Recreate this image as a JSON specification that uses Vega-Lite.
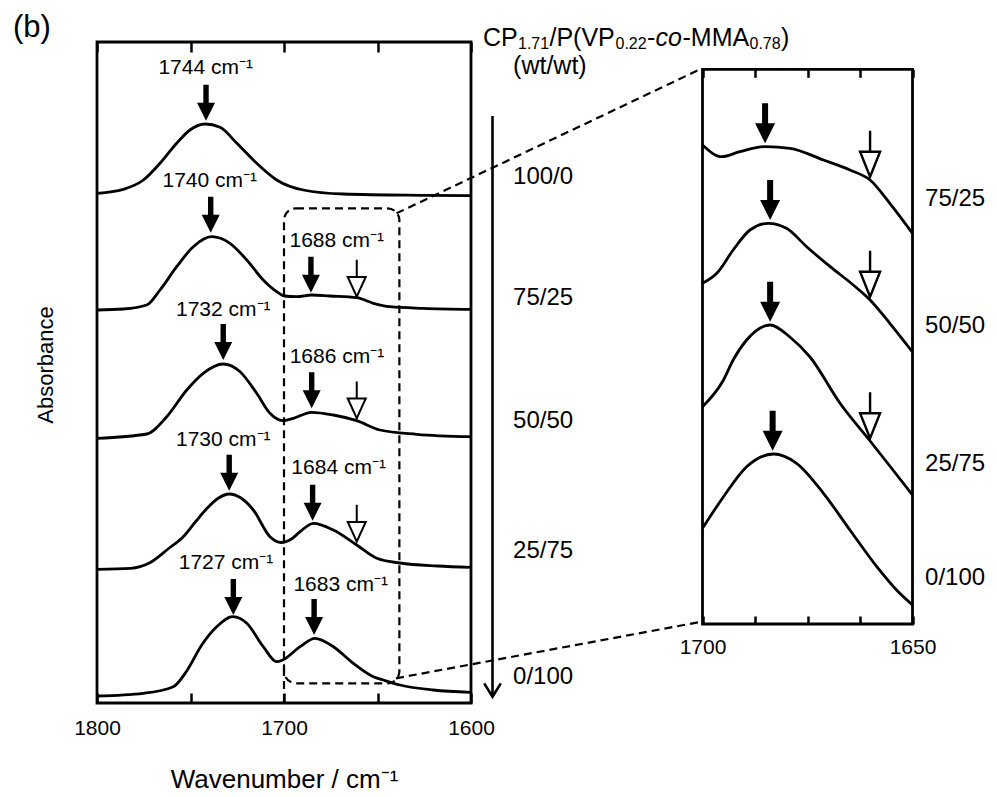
{
  "$schema": "https://vega.github.io/schema/vega-lite/v6.json",
  "width": 374,
  "height": 661,
  "autosize": {"type": "none"},
  "padding": {"left": 97, "top": 42, "right": 526, "bottom": 94},
  "background": "white",
  "config": {
    "font": "Liberation Sans",
    "view": {"stroke": "black", "strokeWidth": 2.8},
    "axis": {"grid": false, "labelFont": "Liberation Sans", "titleFont": "Liberation Sans", "labelColor": "black", "titleColor": "black", "tickColor": "black", "domainColor": "black", "titleFontWeight": "normal"},
    "text": {"font": "Liberation Sans", "color": "black"}
  },
  "datasets": {
    "main": [
      {"ratio": "100/0", "wn": 1800, "A": 5.097}, {"ratio": "100/0", "wn": 1785.9, "A": 5.137}, {"ratio": "100/0", "wn": 1775.2, "A": 5.23}, {"ratio": "100/0", "wn": 1766.3, "A": 5.397}, {"ratio": "100/0", "wn": 1757.4, "A": 5.597}, {"ratio": "100/0", "wn": 1750.3, "A": 5.73}, {"ratio": "100/0", "wn": 1742.2, "A": 5.79}, {"ratio": "100/0", "wn": 1734.2, "A": 5.757}, {"ratio": "100/0", "wn": 1725.2, "A": 5.597}, {"ratio": "100/0", "wn": 1714.6, "A": 5.397}, {"ratio": "100/0", "wn": 1703.9, "A": 5.23}, {"ratio": "100/0", "wn": 1689.7, "A": 5.13}, {"ratio": "100/0", "wn": 1668.3, "A": 5.09}, {"ratio": "100/0", "wn": 1625.5, "A": 5.077}, {"ratio": "100/0", "wn": 1600, "A": 5.073},
      {"ratio": "75/25", "wn": 1800, "A": 3.93}, {"ratio": "75/25", "wn": 1785.9, "A": 3.94}, {"ratio": "75/25", "wn": 1773.4, "A": 3.98}, {"ratio": "75/25", "wn": 1766.3, "A": 4.13}, {"ratio": "75/25", "wn": 1757.4, "A": 4.363}, {"ratio": "75/25", "wn": 1748.5, "A": 4.563}, {"ratio": "75/25", "wn": 1738.7, "A": 4.663}, {"ratio": "75/25", "wn": 1728.9, "A": 4.597}, {"ratio": "75/25", "wn": 1719.9, "A": 4.43}, {"ratio": "75/25", "wn": 1711.1, "A": 4.23}, {"ratio": "75/25", "wn": 1703.9, "A": 4.113}, {"ratio": "75/25", "wn": 1699.8, "A": 4.07}, {"ratio": "75/25", "wn": 1693.2, "A": 4.063}, {"ratio": "75/25", "wn": 1685.2, "A": 4.08}, {"ratio": "75/25", "wn": 1675.4, "A": 4.07}, {"ratio": "75/25", "wn": 1661.1, "A": 4.053}, {"ratio": "75/25", "wn": 1652.2, "A": 3.997}, {"ratio": "75/25", "wn": 1643.3, "A": 3.963}, {"ratio": "75/25", "wn": 1625.5, "A": 3.947}, {"ratio": "75/25", "wn": 1600, "A": 3.937},
      {"ratio": "50/50", "wn": 1800, "A": 2.647}, {"ratio": "50/50", "wn": 1773.4, "A": 2.69}, {"ratio": "50/50", "wn": 1762.7, "A": 2.863}, {"ratio": "50/50", "wn": 1752.0, "A": 3.13}, {"ratio": "50/50", "wn": 1743.2, "A": 3.297}, {"ratio": "50/50", "wn": 1732.5, "A": 3.39}, {"ratio": "50/50", "wn": 1723.5, "A": 3.313}, {"ratio": "50/50", "wn": 1714.6, "A": 3.097}, {"ratio": "50/50", "wn": 1707.5, "A": 2.897}, {"ratio": "50/50", "wn": 1700.7, "A": 2.823}, {"ratio": "50/50", "wn": 1695.0, "A": 2.847}, {"ratio": "50/50", "wn": 1685.2, "A": 2.907}, {"ratio": "50/50", "wn": 1673.6, "A": 2.88}, {"ratio": "50/50", "wn": 1661.1, "A": 2.823}, {"ratio": "50/50", "wn": 1648.7, "A": 2.73}, {"ratio": "50/50", "wn": 1629.0, "A": 2.687}, {"ratio": "50/50", "wn": 1600, "A": 2.663},
      {"ratio": "25/75", "wn": 1800, "A": 1.337}, {"ratio": "25/75", "wn": 1782, "A": 1.347}, {"ratio": "25/75", "wn": 1772, "A": 1.4}, {"ratio": "25/75", "wn": 1762, "A": 1.54}, {"ratio": "25/75", "wn": 1754, "A": 1.66}, {"ratio": "25/75", "wn": 1747, "A": 1.82}, {"ratio": "25/75", "wn": 1741, "A": 1.95}, {"ratio": "25/75", "wn": 1735, "A": 2.05}, {"ratio": "25/75", "wn": 1729.3, "A": 2.09}, {"ratio": "25/75", "wn": 1723, "A": 2.05}, {"ratio": "25/75", "wn": 1716.4, "A": 1.93}, {"ratio": "25/75", "wn": 1707.5, "A": 1.663}, {"ratio": "25/75", "wn": 1701.5, "A": 1.605}, {"ratio": "25/75", "wn": 1696, "A": 1.64}, {"ratio": "25/75", "wn": 1691.4, "A": 1.713}, {"ratio": "25/75", "wn": 1684.3, "A": 1.797}, {"ratio": "25/75", "wn": 1673.6, "A": 1.73}, {"ratio": "25/75", "wn": 1661.1, "A": 1.58}, {"ratio": "25/75", "wn": 1650.4, "A": 1.447}, {"ratio": "25/75", "wn": 1638, "A": 1.4}, {"ratio": "25/75", "wn": 1618, "A": 1.37}, {"ratio": "25/75", "wn": 1600, "A": 1.357},
      {"ratio": "0/100", "wn": 1800, "A": 0.07}, {"ratio": "0/100", "wn": 1775.2, "A": 0.097}, {"ratio": "0/100", "wn": 1759.2, "A": 0.163}, {"ratio": "0/100", "wn": 1752, "A": 0.32}, {"ratio": "0/100", "wn": 1744, "A": 0.58}, {"ratio": "0/100", "wn": 1736.0, "A": 0.763}, {"ratio": "0/100", "wn": 1727.4, "A": 0.863}, {"ratio": "0/100", "wn": 1719.9, "A": 0.797}, {"ratio": "0/100", "wn": 1711.1, "A": 0.563}, {"ratio": "0/100", "wn": 1703.9, "A": 0.413}, {"ratio": "0/100", "wn": 1700.7, "A": 0.43}, {"ratio": "0/100", "wn": 1691.4, "A": 0.563}, {"ratio": "0/100", "wn": 1683.4, "A": 0.647}, {"ratio": "0/100", "wn": 1673.6, "A": 0.563}, {"ratio": "0/100", "wn": 1662.9, "A": 0.397}, {"ratio": "0/100", "wn": 1652.2, "A": 0.263}, {"ratio": "0/100", "wn": 1646.9, "A": 0.23}, {"ratio": "0/100", "wn": 1638.0, "A": 0.18}, {"ratio": "0/100", "wn": 1620.2, "A": 0.13}, {"ratio": "0/100", "wn": 1600, "A": 0.107}
    ],
    "zoom": [
      {"ratio": "75/25", "wn": 1700, "A": 4.79}, {"ratio": "75/25", "wn": 1695.4, "A": 4.673}, {"ratio": "75/25", "wn": 1691.1, "A": 4.723}, {"ratio": "75/25", "wn": 1685.1, "A": 4.773}, {"ratio": "75/25", "wn": 1679.2, "A": 4.757}, {"ratio": "75/25", "wn": 1671.2, "A": 4.64}, {"ratio": "75/25", "wn": 1664.9, "A": 4.54}, {"ratio": "75/25", "wn": 1660.1, "A": 4.44}, {"ratio": "75/25", "wn": 1655.4, "A": 4.207}, {"ratio": "75/25", "wn": 1650, "A": 3.907},
      {"ratio": "50/50", "wn": 1700, "A": 3.407}, {"ratio": "50/50", "wn": 1696.6, "A": 3.507}, {"ratio": "50/50", "wn": 1692.7, "A": 3.74}, {"ratio": "50/50", "wn": 1688.7, "A": 3.94}, {"ratio": "50/50", "wn": 1684.3, "A": 4.007}, {"ratio": "50/50", "wn": 1680, "A": 3.957}, {"ratio": "50/50", "wn": 1675.2, "A": 3.773}, {"ratio": "50/50", "wn": 1669.6, "A": 3.573}, {"ratio": "50/50", "wn": 1664.1, "A": 3.39}, {"ratio": "50/50", "wn": 1660.1, "A": 3.24}, {"ratio": "50/50", "wn": 1655.4, "A": 3.007}, {"ratio": "50/50", "wn": 1650, "A": 2.72},
      {"ratio": "25/75", "wn": 1700, "A": 2.173}, {"ratio": "25/75", "wn": 1695, "A": 2.44}, {"ratio": "25/75", "wn": 1692.7, "A": 2.64}, {"ratio": "25/75", "wn": 1689.5, "A": 2.84}, {"ratio": "25/75", "wn": 1683.9, "A": 2.99}, {"ratio": "25/75", "wn": 1679.2, "A": 2.87}, {"ratio": "25/75", "wn": 1674.4, "A": 2.67}, {"ratio": "25/75", "wn": 1667.3, "A": 2.21}, {"ratio": "25/75", "wn": 1660.1, "A": 1.83}, {"ratio": "25/75", "wn": 1655.4, "A": 1.58}, {"ratio": "25/75", "wn": 1650, "A": 1.29},
      {"ratio": "0/100", "wn": 1700, "A": 0.957}, {"ratio": "0/100", "wn": 1695, "A": 1.273}, {"ratio": "0/100", "wn": 1689.5, "A": 1.573}, {"ratio": "0/100", "wn": 1683.1, "A": 1.7}, {"ratio": "0/100", "wn": 1677.6, "A": 1.607}, {"ratio": "0/100", "wn": 1671.2, "A": 1.307}, {"ratio": "0/100", "wn": 1664.9, "A": 0.94}, {"ratio": "0/100", "wn": 1658.5, "A": 0.573}, {"ratio": "0/100", "wn": 1653.8, "A": 0.34}, {"ratio": "0/100", "wn": 1650, "A": 0.19}
    ],
    "peaks": [
      {"label": "1744 cm\u207b\u00b9", "wn": 1741.9, "A": 6.347},
      {"label": "1740 cm\u207b\u00b9", "wn": 1739.7, "A": 5.223},
      {"label": "1688 cm\u207b\u00b9", "wn": 1671.8, "A": 4.623},
      {"label": "1732 cm\u207b\u00b9", "wn": 1732.5, "A": 3.93},
      {"label": "1686 cm\u207b\u00b9", "wn": 1671.7, "A": 3.463},
      {"label": "1730 cm\u207b\u00b9", "wn": 1732.5, "A": 2.63},
      {"label": "1684 cm\u207b\u00b9", "wn": 1670.8, "A": 2.347},
      {"label": "1727 cm\u207b\u00b9", "wn": 1731.0, "A": 1.397},
      {"label": "1683 cm\u207b\u00b9", "wn": 1669.7, "A": 1.18}
    ],
    "mainFilled": [
      {"wn": 1741.7, "A": 5.823}, {"wn": 1739.2, "A": 4.703}, {"wn": 1685.6, "A": 4.103},
      {"wn": 1732.5, "A": 3.43}, {"wn": 1685.2, "A": 2.947},
      {"wn": 1729.3, "A": 2.123}, {"wn": 1684.7, "A": 1.823},
      {"wn": 1727.1, "A": 0.88}, {"wn": 1683.9, "A": 0.68}
    ],
    "mainOpen": [
      {"wn": 1661.1, "A": 4.063}, {"wn": 1661.1, "A": 2.847}, {"wn": 1661.1, "A": 1.613}
    ],
    "zoomFilled": [
      {"wn": 1685.1, "A": 4.807}, {"wn": 1683.9, "A": 4.04}, {"wn": 1683.9, "A": 3.023}, {"wn": 1683.3, "A": 1.733}
    ],
    "zoomOpen": [
      {"wn": 1660.1, "A": 4.473}, {"wn": 1660.1, "A": 3.273}, {"wn": 1660.1, "A": 1.857}
    ],
    "ratiosMain": [
      {"ratio": "100/0", "wn": 1577.5, "A": 5.26},
      {"ratio": "75/25", "wn": 1577.5, "A": 4.05},
      {"ratio": "50/50", "wn": 1577.5, "A": 2.82},
      {"ratio": "25/75", "wn": 1577.5, "A": 1.52},
      {"ratio": "0/100", "wn": 1577.5, "A": 0.26}
    ],
    "ratiosZoom": [
      {"ratio": "75/25", "wn": 1647.0, "A": 4.25},
      {"ratio": "50/50", "wn": 1647.0, "A": 2.98},
      {"ratio": "25/75", "wn": 1647.0, "A": 1.6},
      {"ratio": "0/100", "wn": 1647.0, "A": 0.46}
    ],
    "box": [{"wn": 1700, "wn2": 1638.3, "A": 4.947, "A2": 0.197}],
    "boxLeg": [{"wn": 1700, "A": 0.35, "A2": 0}],
    "connectors": [
      {"seg": "top", "wn": 1639.8, "A": 4.897}, {"seg": "top", "wn": 1477.5, "A": 6.337},
      {"seg": "bottom", "wn": 1640.1, "A": 0.247}, {"seg": "bottom", "wn": 1477.5, "A": 0.81}
    ],
    "bigArrow": [{"wn": 1588.5, "A": 5.87, "A2": 0.063}],
    "panelTag": [{"tag": "(b)", "wn": 1834.8, "A": 6.75}],
    "axisTitleY": [{"title": "Absorbance", "wn": 1827.4, "A": 3.38}],
    "titleParts": [
      {"t": "CP", "kind": "main", "wn": 1593.58, "A": 6.573},
      {"t": "1.71", "kind": "sub", "wn": 1574.87, "A": 6.54},
      {"t": "/P(VP", "kind": "main", "wn": 1558.02, "A": 6.573},
      {"t": "0.22", "kind": "sub", "wn": 1522.73, "A": 6.54},
      {"t": "-", "kind": "main", "wn": 1505.88, "A": 6.573},
      {"t": "co", "kind": "ital", "wn": 1501.34, "A": 6.573},
      {"t": "-MMA", "kind": "main", "wn": 1486.9, "A": 6.573},
      {"t": "0.78", "kind": "sub", "wn": 1451.07, "A": 6.54},
      {"t": ")", "kind": "main", "wn": 1434.22, "A": 6.573},
      {"t": "(wt/wt)", "kind": "main", "wn": 1577.5, "A": 6.29}
    ],
    "zframe": [{"wn": 1700, "wn2": 1650, "A": 0, "A2": 5.547}]
  },
  "resolve": {"scale": {"x": "independent", "y": "independent"}, "axis": {"x": "independent", "y": "independent"}},
  "layer": [
    {
      "resolve": {"axis": {"x": "independent"}},
      "layer": [
        {
          "data": {"name": "main"},
          "mark": {"type": "line", "color": "black", "strokeWidth": 2.8, "interpolate": "monotone", "clip": false},
          "encoding": {
            "x": {"field": "wn", "type": "quantitative", "scale": {"domain": [1800, 1600], "nice": false, "zero": false},
              "axis": {"orient": "bottom", "values": [1800, 1750, 1700, 1650, 1600], "format": "d", "labelExpr": "datum.value == 1750 || datum.value == 1650 ? '' : datum.label", "labelFlush": false, "labelOverlap": false, "domain": false, "ticks": true, "tickSize": -10, "tickWidth": 2.5, "labelFontSize": 21, "labelPadding": 24, "title": "Wavenumber / cm\u207b\u00b9", "titleFontSize": 26, "titlePadding": 28}},
            "y": {"field": "A", "type": "quantitative", "scale": {"domain": [0, 6.61], "nice": false, "zero": false}, "axis": null},
            "detail": {"field": "ratio"},
            "order": {"field": "wn", "sort": "descending"}
          }
        },
        {
          "data": {"name": "box"},
          "mark": {"type": "rect", "filled": false, "color": "black", "strokeWidth": 2.2, "strokeDash": [8, 5], "cornerRadius": 12, "clip": false},
          "encoding": {
            "x": {"field": "wn", "type": "quantitative", "scale": {"domain": [1800, 1600], "nice": false, "zero": false},
              "axis": {"orient": "top", "values": [1800, 1750, 1700, 1650, 1600], "labels": false, "domain": false, "ticks": true, "tickSize": -10, "tickWidth": 2.5, "title": null}},
            "x2": {"field": "wn2"},
            "y": {"field": "A", "type": "quantitative", "scale": {"domain": [0, 6.61], "nice": false, "zero": false}, "axis": null},
            "y2": {"field": "A2"}
          }
        },
        {
          "data": {"name": "boxLeg"},
          "mark": {"type": "rule", "color": "black", "strokeWidth": 2.2, "strokeDash": [8, 5]},
          "encoding": {
            "x": {"field": "wn", "type": "quantitative", "scale": {"domain": [1800, 1600], "nice": false, "zero": false}, "axis": null},
            "y": {"field": "A", "type": "quantitative", "scale": {"domain": [0, 6.61], "nice": false, "zero": false}, "axis": null},
            "y2": {"field": "A2"}
          }
        },
        {
          "data": {"name": "connectors"},
          "mark": {"type": "line", "color": "black", "strokeWidth": 2.2, "strokeDash": [8, 5], "clip": false},
          "encoding": {
            "x": {"field": "wn", "type": "quantitative", "scale": {"domain": [1800, 1600], "nice": false, "zero": false}, "axis": null},
            "y": {"field": "A", "type": "quantitative", "scale": {"domain": [0, 6.61], "nice": false, "zero": false}, "axis": null},
            "detail": {"field": "seg"}
          }
        },
        {
          "data": {"name": "mainFilled"},
          "mark": {"type": "point", "shape": "M0,0L-1,-2L-0.3,-2L-0.3,-4L0.3,-4L0.3,-2L1,-2Z", "size": 324, "filled": true, "color": "black", "opacity": 1, "strokeWidth": 0},
          "encoding": {
            "x": {"field": "wn", "type": "quantitative", "scale": {"domain": [1800, 1600], "nice": false, "zero": false}, "axis": null},
            "y": {"field": "A", "type": "quantitative", "scale": {"domain": [0, 6.61], "nice": false, "zero": false}, "axis": null}
          }
        },
        {
          "data": {"name": "mainOpen"},
          "mark": {"type": "point", "shape": "M0,-4.1L0,-2.2M-1,-2.2L1,-2.2L0,0Z", "size": 324, "filled": false, "color": "black", "opacity": 1, "strokeWidth": 2},
          "encoding": {
            "x": {"field": "wn", "type": "quantitative", "scale": {"domain": [1800, 1600], "nice": false, "zero": false}, "axis": null},
            "y": {"field": "A", "type": "quantitative", "scale": {"domain": [0, 6.61], "nice": false, "zero": false}, "axis": null}
          }
        },
        {
          "data": {"name": "peaks"},
          "mark": {"type": "text", "fontSize": 21, "align": "center", "baseline": "middle", "color": "black"},
          "encoding": {
            "x": {"field": "wn", "type": "quantitative", "scale": {"domain": [1800, 1600], "nice": false, "zero": false}, "axis": null},
            "y": {"field": "A", "type": "quantitative", "scale": {"domain": [0, 6.61], "nice": false, "zero": false}, "axis": null},
            "text": {"field": "label"}
          }
        },
        {
          "data": {"name": "ratiosMain"},
          "mark": {"type": "text", "fontSize": 24, "align": "left", "baseline": "middle", "color": "black"},
          "encoding": {
            "x": {"field": "wn", "type": "quantitative", "scale": {"domain": [1800, 1600], "nice": false, "zero": false}, "axis": null},
            "y": {"field": "A", "type": "quantitative", "scale": {"domain": [0, 6.61], "nice": false, "zero": false}, "axis": null},
            "text": {"field": "ratio"}
          }
        },
        {
          "data": {"name": "bigArrow"},
          "mark": {"type": "rule", "color": "black", "strokeWidth": 2.6},
          "encoding": {
            "x": {"field": "wn", "type": "quantitative", "scale": {"domain": [1800, 1600], "nice": false, "zero": false}, "axis": null},
            "y": {"field": "A", "type": "quantitative", "scale": {"domain": [0, 6.61], "nice": false, "zero": false}, "axis": null},
            "y2": {"field": "A2"}
          }
        },
        {
          "data": {"name": "bigArrow"},
          "mark": {"type": "point", "shape": "M-1,-1.6L0,0L1,-1.6", "size": 276, "filled": false, "color": "black", "opacity": 1, "strokeWidth": 2.6},
          "encoding": {
            "x": {"field": "wn", "type": "quantitative", "scale": {"domain": [1800, 1600], "nice": false, "zero": false}, "axis": null},
            "y": {"field": "A2", "type": "quantitative", "scale": {"domain": [0, 6.61], "nice": false, "zero": false}, "axis": null}
          }
        },
        {
          "data": {"name": "panelTag"},
          "mark": {"type": "text", "fontSize": 31, "align": "center", "baseline": "middle", "color": "black"},
          "encoding": {
            "x": {"field": "wn", "type": "quantitative", "scale": {"domain": [1800, 1600], "nice": false, "zero": false}, "axis": null},
            "y": {"field": "A", "type": "quantitative", "scale": {"domain": [0, 6.61], "nice": false, "zero": false}, "axis": null},
            "text": {"field": "tag"}
          }
        },
        {
          "data": {"name": "axisTitleY"},
          "mark": {"type": "text", "fontSize": 22, "angle": 270, "align": "center", "baseline": "middle", "color": "black"},
          "encoding": {
            "x": {"field": "wn", "type": "quantitative", "scale": {"domain": [1800, 1600], "nice": false, "zero": false}, "axis": null},
            "y": {"field": "A", "type": "quantitative", "scale": {"domain": [0, 6.61], "nice": false, "zero": false}, "axis": null},
            "text": {"field": "title"}
          }
        },
        {
          "data": {"name": "titleParts"},
          "transform": [{"filter": "datum.kind == 'main'"}],
          "mark": {"type": "text", "fontSize": 25, "align": "left", "baseline": "alphabetic", "color": "black"},
          "encoding": {
            "x": {"field": "wn", "type": "quantitative", "scale": {"domain": [1800, 1600], "nice": false, "zero": false}, "axis": null},
            "y": {"field": "A", "type": "quantitative", "scale": {"domain": [0, 6.61], "nice": false, "zero": false}, "axis": null},
            "text": {"field": "t"}
          }
        },
        {
          "data": {"name": "titleParts"},
          "transform": [{"filter": "datum.kind == 'sub'"}],
          "mark": {"type": "text", "fontSize": 16, "align": "left", "baseline": "alphabetic", "color": "black"},
          "encoding": {
            "x": {"field": "wn", "type": "quantitative", "scale": {"domain": [1800, 1600], "nice": false, "zero": false}, "axis": null},
            "y": {"field": "A", "type": "quantitative", "scale": {"domain": [0, 6.61], "nice": false, "zero": false}, "axis": null},
            "text": {"field": "t"}
          }
        },
        {
          "data": {"name": "titleParts"},
          "transform": [{"filter": "datum.kind == 'ital'"}],
          "mark": {"type": "text", "fontSize": 25, "fontStyle": "italic", "align": "left", "baseline": "alphabetic", "color": "black"},
          "encoding": {
            "x": {"field": "wn", "type": "quantitative", "scale": {"domain": [1800, 1600], "nice": false, "zero": false}, "axis": null},
            "y": {"field": "A", "type": "quantitative", "scale": {"domain": [0, 6.61], "nice": false, "zero": false}, "axis": null},
            "text": {"field": "t"}
          }
        }
      ]
    },
    {
      "resolve": {"axis": {"x": "independent"}},
      "layer": [
        {
          "data": {"name": "zoom"},
          "mark": {"type": "line", "color": "black", "strokeWidth": 2.8, "interpolate": "monotone", "clip": false},
          "encoding": {
            "x": {"field": "wn", "type": "quantitative", "scale": {"domain": [1700, 1650], "range": [605.5, 815.5], "nice": false, "zero": false},
              "axis": {"orient": "bottom", "offset": -79, "values": [1700, 1687.5, 1675, 1662.5, 1650], "format": "d", "labelExpr": "datum.value == 1700 || datum.value == 1650 ? datum.label : ''", "labelFlush": false, "labelOverlap": false, "domain": false, "ticks": true, "tickSize": -8, "tickWidth": 2.5, "labelFontSize": 21, "labelPadding": 20, "title": null}},
            "y": {"field": "A", "type": "quantitative", "scale": {"domain": [0, 5.547], "range": [582, 27.3], "nice": false, "zero": false}, "axis": null},
            "detail": {"field": "ratio"},
            "order": {"field": "wn", "sort": "descending"}
          }
        },
        {
          "data": {"name": "zframe"},
          "mark": {"type": "rect", "filled": false, "color": "black", "strokeWidth": 2.8, "clip": false},
          "encoding": {
            "x": {"field": "wn", "type": "quantitative", "scale": {"domain": [1700, 1650], "range": [605.5, 815.5], "nice": false, "zero": false},
              "axis": {"orient": "top", "offset": -27.3, "values": [1700, 1687.5, 1675, 1662.5, 1650], "labels": false, "domain": false, "ticks": true, "tickSize": -8, "tickWidth": 2.5, "title": null}},
            "x2": {"field": "wn2"},
            "y": {"field": "A", "type": "quantitative", "scale": {"domain": [0, 5.547], "range": [582, 27.3], "nice": false, "zero": false}, "axis": null},
            "y2": {"field": "A2"}
          }
        },
        {
          "data": {"name": "zoomFilled"},
          "mark": {"type": "point", "shape": "M0,0L-1,-2L-0.3,-2L-0.3,-4L0.3,-4L0.3,-2L1,-2Z", "size": 400, "filled": true, "color": "black", "opacity": 1, "strokeWidth": 0},
          "encoding": {
            "x": {"field": "wn", "type": "quantitative", "scale": {"domain": [1700, 1650], "range": [605.5, 815.5], "nice": false, "zero": false}, "axis": null},
            "y": {"field": "A", "type": "quantitative", "scale": {"domain": [0, 5.547], "range": [582, 27.3], "nice": false, "zero": false}, "axis": null}
          }
        },
        {
          "data": {"name": "zoomOpen"},
          "mark": {"type": "point", "shape": "M0,-4.6L0,-2.5M-1,-2.5L1,-2.5L0,0Z", "size": 400, "filled": false, "color": "black", "opacity": 1, "strokeWidth": 2.4},
          "encoding": {
            "x": {"field": "wn", "type": "quantitative", "scale": {"domain": [1700, 1650], "range": [605.5, 815.5], "nice": false, "zero": false}, "axis": null},
            "y": {"field": "A", "type": "quantitative", "scale": {"domain": [0, 5.547], "range": [582, 27.3], "nice": false, "zero": false}, "axis": null}
          }
        },
        {
          "data": {"name": "ratiosZoom"},
          "mark": {"type": "text", "fontSize": 24, "align": "left", "baseline": "middle", "color": "black"},
          "encoding": {
            "x": {"field": "wn", "type": "quantitative", "scale": {"domain": [1700, 1650], "range": [605.5, 815.5], "nice": false, "zero": false}, "axis": null},
            "y": {"field": "A", "type": "quantitative", "scale": {"domain": [0, 5.547], "range": [582, 27.3], "nice": false, "zero": false}, "axis": null},
            "text": {"field": "ratio"}
          }
        }
      ]
    }
  ]
}
